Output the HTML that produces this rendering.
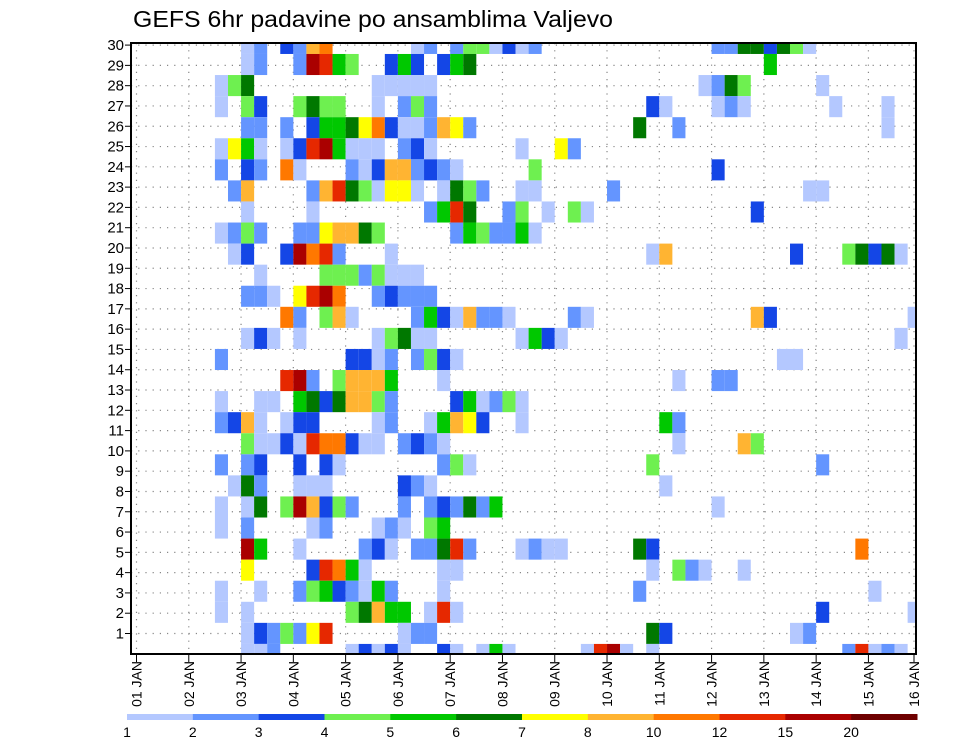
<!DOCTYPE html>
<html><head><meta charset="utf-8"><style>
html,body{margin:0;padding:0;background:#fff;}
svg{display:block;font-family:"Liberation Sans",sans-serif;}
</style></head><body>
<svg id="chart" width="960" height="742" viewBox="0 0 960 742" xmlns="http://www.w3.org/2000/svg">
<text x="133" y="27" font-size="23" textLength="480" lengthAdjust="spacingAndGlyphs" fill="#000">GEFS 6hr padavine po ansamblima Valjevo</text>
<g id="grid"></g>
<g id="cells"></g>
<g id="axes"></g>
<g id="legend"></g>
</svg>
<script>
// ---- data ----
// band rows, top (index 29) to bottom (index 0); each entry "timestep+levelcode"
const rowCells = [
"8a 9b 11c 12b 13h 14i 21a 22b 24b 25d 26d 27a 28c 29a 30b 44b 45b 46f 47f 48c 49f 50d 51a",
"8a 9b 12b 13k 14j 15e 16d 19c 20e 21c 23c 24e 25f 48e",
"6a 7d 8f 18a 19a 20a 21a 22a 43a 44b 45f 46d 52a",
"6a 8d 9c 12d 13f 14d 15d 18a 20b 21d 22b 39c 40a 44a 45b 46a 53a 57a",
"8b 9b 11b 13c 14e 15e 16f 17g 18i 19c 20a 21a 22b 23h 24g 25b 38f 41b 57a",
"6a 7g 8e 9a 11a 12c 13j 14k 15e 16a 17a 18a 20b 21c 22a 29a 32g 33b",
"6b 8c 9b 11i 12a 16b 17a 18c 19h 20h 21b 22c 23b 24a 30d 44c",
"7b 8h 13b 14h 15j 16f 17d 18a 19g 20g 21a 23a 24f 25d 26b 29a 30a 36b 51a 52a",
"8a 13a 22b 23e 24j 25f 28b 29d 31a 33d 34a 47c",
"6a 7b 8d 9b 12b 13b 14g 15h 16h 17f 18d 24b 25e 26d 27b 28b 29e 30a",
"7a 8c 11c 12k 13i 14j 15b 19a 39a 40h 50c 54d 55f 56c 57f 58a",
"9a 14d 15d 16d 17b 18d 19a 20a 21a",
"8b 9b 10a 12g 13j 14k 15i 18b 19c 20b 21b 22b",
"11i 12b 14d 15h 16a 21b 22e 23c 24a 25h 26b 27b 28a 33b 34a 47h 48c 59a",
"8a 9c 10a 12a 18a 19d 20f 21a 22a 29a 30e 31c 32a 58a",
"6b 16c 17c 18a 19b 21b 22d 23c 24a 49a 50a",
"11j 12k 13b 15d 16h 17h 18h 19e 23a 41a 44b 45b",
"6a 9a 10a 12e 13f 14c 15f 16h 17h 18d 19b 24c 25e 26a 27b 28d 29a",
"6b 7c 8h 9a 11a 12c 13c 18a 19b 22a 23e 24h 25g 26c 29a 40e 41b",
"8d 9a 10a 11c 12a 13j 14i 15i 16c 17a 18a 20b 21c 22b 23a 41a 46h 47d",
"6b 8b 9c 12c 14c 15a 23b 24d 25a 39d 52b",
"7a 8f 9b 12a 13a 14a 20c 21b 22a 40a",
"6a 8a 9f 11d 12k 13h 14c 15d 16b 20b 22b 23c 24b 25f 26b 27e 44a",
"6a 8b 13a 14b 18a 19b 20a 22d 23e",
"8k 9e 12a 17b 18c 19a 21b 22b 23f 24j 25b 29a 30b 31a 32a 38f 39c 55i",
"8g 13c 14j 15i 16e 17a 23a 24a 39a 41d 42b 43a 46a",
"6a 9a 12b 13d 14e 15c 16b 17a 18e 19b 23a 38b 56a",
"6a 8a 16d 17f 18h 19e 20e 22a 23j 24a 52c 59a",
"8a 9c 10b 11d 12b 13g 14j 20a 21b 22b 39f 40c 50a 51b",
"8a 9a 10b 16a 17c 18a 19c 20a 23c 24a 26a 27e 28a 34a 35j 36k 37a 39a 54b 55j 56a 57b 58a"
];
const levelCodes = "abcdefghijkl";
const legendLabels = ["1","2","3","4","5","6","7","8","10","12","15","20"];
const dayLabels = ["01 JAN","02 JAN","03 JAN","04 JAN","05 JAN","06 JAN","07 JAN","08 JAN","09 JAN","10 JAN","11 JAN","12 JAN","13 JAN","14 JAN","15 JAN","16 JAN"];
const yLabels = [1,2,3,4,5,6,7,8,9,10,11,12,13,14,15,16,17,18,19,20,21,22,23,24,25,26,27,28,29,30];
const palette = ["#b4c8ff","#6495ff","#1446e6","#6ef050","#00c800","#007800","#ffff00","#ffb432","#ff7800","#e62800","#aa0000","#6e0000"];

// ---- scales ----
const L=131, R=916, T=43, B=654;
const x0=136.5, cellW=13.07;
function xScale(i){return x0+cellW*i;}
function dayX(d){return x0+cellW*4*d;}
const bandH=21.07;
function bandBottom(b){return 665-bandH*b;}
function labelY(k){return 633.5-(k-1)*20.29;}

const NS="http://www.w3.org/2000/svg";
function mk(tag,attrs,parent){const e=document.createElementNS(NS,tag);for(const k in attrs)e.setAttribute(k,attrs[k]);parent.appendChild(e);return e;}

const grid=document.getElementById('grid');
const cells=document.getElementById('cells');
const axes=document.getElementById('axes');
const legend=document.getElementById('legend');

const nb=rowCells.length;
rowCells.forEach((s,ri)=>{
  const b=nb-1-ri;
  s.split(' ').forEach(tok=>{
    const i=parseInt(tok,10);
    const lv=levelCodes.indexOf(tok.slice(-1));
    let xa=xScale(i), xb=xScale(i+1);
    let yb=bandBottom(b), ya=yb-bandH;
    xa=Math.max(xa,L); xb=Math.min(xb,R); ya=Math.max(ya,T); yb=Math.min(yb,B);
    if(xb<=xa||yb<=ya) return;
    const r=mk('rect',{x:xa.toFixed(2),y:ya.toFixed(2),width:(xb-xa).toFixed(2),height:(yb-ya).toFixed(2),fill:palette[lv]},cells);
    
    
  });
});

yLabels.forEach(k=>{
  const y=labelY(k);
  const g=mk('line',{x1:L,x2:R,y1:y,y2:y,stroke:'#888','stroke-width':1.2,'stroke-dasharray':'1.2 6'},grid);
  
  
  const t=mk('line',{x1:125,x2:L,y1:y,y2:y,stroke:'#000','stroke-width':1},axes);
  
  
  const tx=mk('text',{x:124,y:y+5,'font-size':15,'text-anchor':'end',fill:'#000'},axes);
  tx.textContent=String(k);
  
  
});
dayLabels.forEach((lab,d)=>{
  let x=dayX(d); if(x>R-2) x=R-2;
  const g=mk('line',{x1:x,x2:x,y1:T,y2:B,stroke:'#888','stroke-width':1.2,'stroke-dasharray':'1.2 6'},grid);
  
  
  const t=mk('line',{x1:x,x2:x,y1:B,y2:B+8,stroke:'#000','stroke-width':1},axes);
  
  
  const tx=mk('text',{x:0,y:0,'font-size':14,'text-anchor':'end',fill:'#000',transform:'translate('+(x+5)+','+(B+7)+') rotate(-90)'},axes);
  tx.textContent=lab;
  
  
});
const frame=mk('rect',{x:L,y:T,width:R-L,height:B-T,fill:'none',stroke:'#000','stroke-width':2},axes);



const lx0=127, lx1=917, lw=(lx1-lx0)/palette.length;
palette.forEach((c,k)=>{
  const r=mk('rect',{x:(lx0+k*lw).toFixed(2),y:714,width:(lw+0.5).toFixed(2),height:6,fill:c},legend);
  
  
});
legendLabels.forEach((lab,k)=>{
  const t=mk('text',{x:(lx0+k*lw).toFixed(2),y:737,'font-size':14,'text-anchor':'middle',fill:'#000'},legend);
  t.textContent=lab;
  
  
});
</script>
</body></html>
